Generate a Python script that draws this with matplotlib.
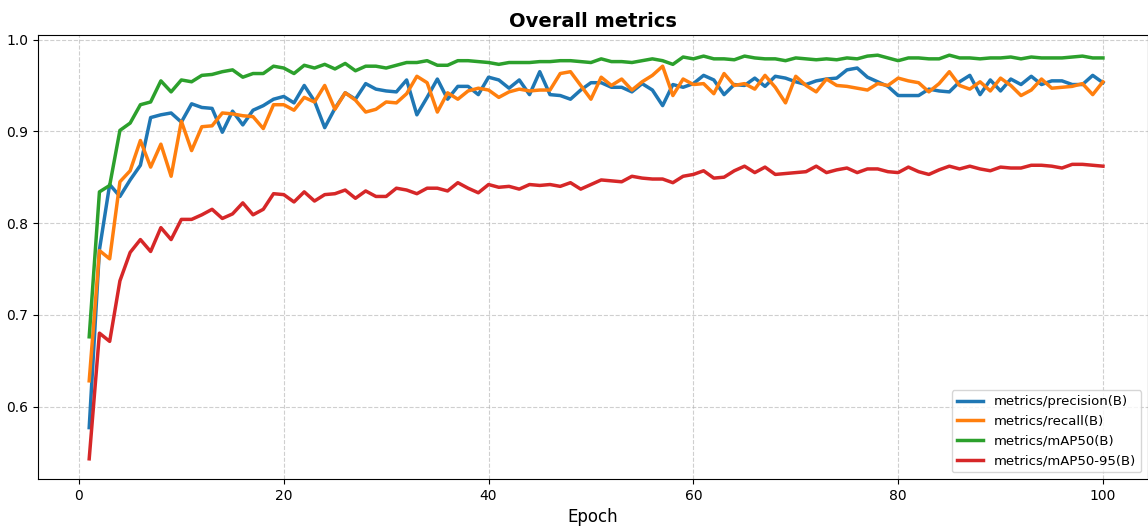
import numpy as np
import matplotlib.pyplot as plt

epochs = np.arange(1, 101)

precision = [0.577, 0.771, 0.842, 0.829, 0.847, 0.863, 0.915, 0.918, 0.920, 0.910,
             0.930, 0.926, 0.925, 0.899, 0.922, 0.907, 0.923, 0.928, 0.935, 0.938,
             0.931, 0.950, 0.933, 0.904, 0.925, 0.942, 0.935, 0.952, 0.946, 0.944,
             0.943, 0.956, 0.918, 0.937, 0.957, 0.935, 0.949, 0.949, 0.940, 0.959,
             0.956, 0.947, 0.956, 0.940, 0.965, 0.940, 0.939, 0.935, 0.945, 0.953,
             0.953, 0.948, 0.948, 0.943, 0.952, 0.945, 0.928, 0.951, 0.948, 0.952,
             0.961, 0.956, 0.940, 0.951, 0.950, 0.958, 0.949, 0.960, 0.958, 0.954,
             0.951, 0.955, 0.957, 0.958, 0.967, 0.969, 0.959, 0.954, 0.949, 0.939,
             0.939, 0.939, 0.946, 0.944, 0.943, 0.954, 0.961, 0.940, 0.956, 0.944,
             0.957, 0.951, 0.960, 0.951, 0.955, 0.955, 0.951, 0.951, 0.961, 0.953]

recall = [0.628, 0.770, 0.761, 0.845, 0.857, 0.890, 0.861, 0.886, 0.851, 0.911,
          0.879, 0.905, 0.906, 0.920, 0.919, 0.917, 0.916, 0.903, 0.929, 0.929,
          0.923, 0.937, 0.932, 0.950, 0.924, 0.942, 0.934, 0.921, 0.924, 0.932,
          0.931, 0.941, 0.960, 0.953, 0.921, 0.942, 0.935, 0.944, 0.947, 0.945,
          0.937, 0.943, 0.946, 0.944, 0.945, 0.945, 0.963, 0.965, 0.950, 0.935,
          0.959, 0.950, 0.957, 0.945, 0.954, 0.961, 0.971, 0.939, 0.957, 0.951,
          0.952, 0.941, 0.963, 0.950, 0.952, 0.946, 0.961, 0.948, 0.931, 0.960,
          0.950, 0.943, 0.957, 0.950, 0.949, 0.947, 0.945, 0.952, 0.950, 0.958,
          0.955, 0.953, 0.943, 0.952, 0.965, 0.950, 0.946, 0.954, 0.944, 0.958,
          0.950, 0.939, 0.945, 0.957, 0.947, 0.948, 0.949, 0.952, 0.940, 0.954]

map50 = [0.676, 0.834, 0.841, 0.901, 0.909, 0.929, 0.932, 0.955, 0.943, 0.956,
         0.954, 0.961, 0.962, 0.965, 0.967, 0.959, 0.963, 0.963, 0.971, 0.969,
         0.963, 0.972, 0.969, 0.973, 0.968, 0.974, 0.966, 0.971, 0.971, 0.969,
         0.972, 0.975, 0.975, 0.977, 0.972, 0.972, 0.977, 0.977, 0.976, 0.975,
         0.973, 0.975, 0.975, 0.975, 0.976, 0.976, 0.977, 0.977, 0.976, 0.975,
         0.979, 0.976, 0.976, 0.975, 0.977, 0.979, 0.977, 0.973, 0.981, 0.979,
         0.982, 0.979, 0.979, 0.978, 0.982, 0.980, 0.979, 0.979, 0.977, 0.980,
         0.979, 0.978, 0.979, 0.978, 0.980, 0.979, 0.982, 0.983, 0.980, 0.977,
         0.980, 0.980, 0.979, 0.979, 0.983, 0.980, 0.980, 0.979, 0.980, 0.980,
         0.981, 0.979, 0.981, 0.980, 0.980, 0.980, 0.981, 0.982, 0.980, 0.980]

map50_95 = [0.543, 0.680, 0.671, 0.737, 0.768, 0.782, 0.769, 0.795, 0.782, 0.804,
            0.804, 0.809, 0.815, 0.805, 0.810, 0.822, 0.809, 0.815, 0.832, 0.831,
            0.823, 0.834, 0.824, 0.831, 0.832, 0.836, 0.827, 0.835, 0.829, 0.829,
            0.838, 0.836, 0.832, 0.838, 0.838, 0.835, 0.844, 0.838, 0.833, 0.842,
            0.839, 0.840, 0.837, 0.842, 0.841, 0.842, 0.840, 0.844, 0.837, 0.842,
            0.847, 0.846, 0.845, 0.851, 0.849, 0.848, 0.848, 0.844, 0.851, 0.853,
            0.857, 0.849, 0.850, 0.857, 0.862, 0.855, 0.861, 0.853, 0.854, 0.855,
            0.856, 0.862, 0.855, 0.858, 0.860, 0.855, 0.859, 0.859, 0.856, 0.855,
            0.861, 0.856, 0.853, 0.858, 0.862, 0.859, 0.862, 0.859, 0.857, 0.861,
            0.860, 0.860, 0.863, 0.863, 0.862, 0.860, 0.864, 0.864, 0.863, 0.862]

labels = ['metrics/precision(B)', 'metrics/recall(B)',
          'metrics/mAP50(B)', 'metrics/mAP50-95(B)']

fig = plt.figure(figsize=(11.48, 5.27), dpi=100)
ax = fig.add_axes([38 / 1148, 48 / 527, 1110 / 1148, 444 / 527])

for series, label in zip([precision, recall, map50, map50_95], labels):
    ax.plot(epochs, series, linewidth=2.5, label=label)

ax.set_xlim(-4.0, 104.4)
ax.set_title('Overall metrics', fontsize=14, fontweight='bold')
ax.set_xlabel('Epoch', fontsize=12)
ax.grid(True, linestyle='--', alpha=0.6)
ax.legend(loc='lower right', fontsize=9.5)

fig.savefig('out.png', dpi=100)
